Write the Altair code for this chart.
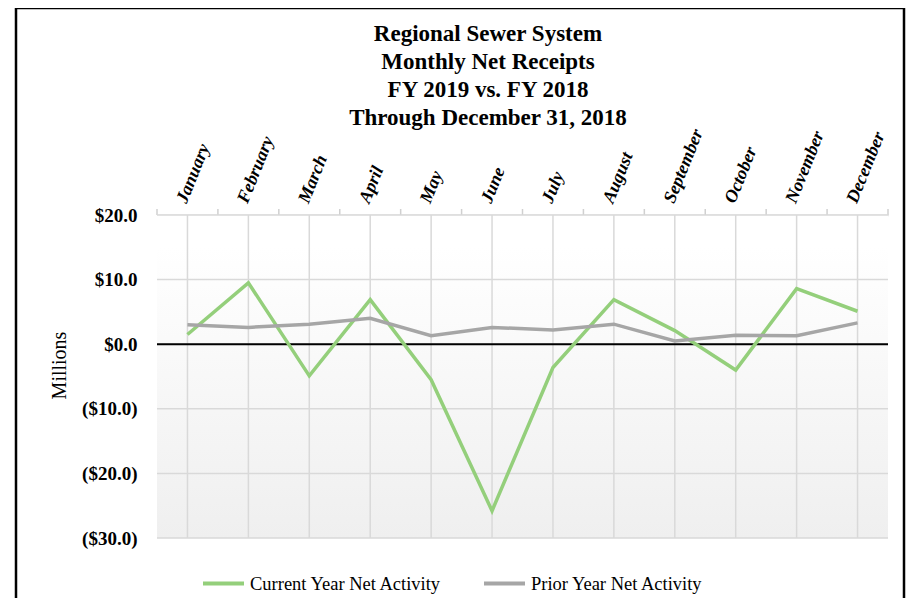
import altair as alt
import pandas as pd

months = ["January", "February", "March", "April", "May", "June",
          "July", "August", "September", "October", "November", "December"]
current_year = [1.5, 9.5, -4.9, 6.9, -5.5, -25.8, -3.6, 6.9, 2.1, -4.0, 8.6, 5.1]
prior_year = [3.0, 2.6, 3.1, 4.0, 1.3, 2.6, 2.2, 3.1, 0.5, 1.4, 1.3, 3.3]
series_names = ["Current Year Net Activity", "Prior Year Net Activity"]
series_colors = ["#94cf7b", "#a6a6a6"]
y_ticks = [20, 10, 0, -10, -20, -30]
title_lines = ["Regional Sewer System", "Monthly Net Receipts",
               "FY 2019 vs. FY 2018", "Through December 31, 2018"]

W, H = 731, 323
STEP = W / 12
FONT = "Liberation Serif"

df = pd.DataFrame({
    "Month": months * 2,
    "Value": current_year + prior_year,
    "Series": [series_names[0]] * 12 + [series_names[1]] * 12,
})
grid_df = pd.DataFrame({"Value": y_ticks})
zero_df = pd.DataFrame({"Value": [0]})
month_df = pd.DataFrame({"Month": months})
one = pd.DataFrame({"a": [0]})

xscale = alt.Scale(type="point", domain=months, padding=0.5)
yscale = alt.Scale(domain=[-30, 20], nice=False, zero=False)

x_axis = alt.Axis(orient="top", title=None, grid=False,
                  domainColor="#d0d0d0", domainWidth=1.5,
                  ticks=False, labelAngle=292, labelAlign="left",
                  labelBaseline="middle", labelFont=FONT, labelFontSize=18,
                  labelFontWeight="bold", labelFontStyle="italic",
                  labelColor="black", labelPadding=13, labelOffset=-6)
y_axis = alt.Axis(values=y_ticks, grid=False, domain=False, ticks=False,
                  format="($.1f", labelFont=FONT,
                  labelFontSize=19, labelFontWeight="bold",
                  labelColor="black", labelPadding=20,
                  title="Millions", titleFont=FONT, titleFontSize=20,
                  titleFontWeight="normal", titleColor="black",
                  titlePadding=12, titleY=150)

X = alt.X("Month:N", scale=xscale, axis=x_axis)
Y = alt.Y("Value:Q", scale=yscale, axis=y_axis)

bg = alt.Chart(one).mark_rect(
    fill=alt.LinearGradient(
        gradient="linear",
        stops=[alt.GradientStop(color="#ffffff", offset=0),
               alt.GradientStop(color="#ffffff", offset=0.1),
               alt.GradientStop(color="#efefef", offset=1)],
        x1=0, x2=0, y1=0, y2=1),
).encode(x=alt.value(0), x2=alt.value(W), y=alt.value(0), y2=alt.value(H))

vgrid = alt.Chart(month_df).mark_rule(color="#d9d9d9", strokeWidth=1.5).encode(
    x=X, y=alt.value(0), y2=alt.value(H),
)

tick_start = alt.Chart(month_df).mark_rule(
    color="#d0d0d0", strokeWidth=1.5, xOffset=-STEP / 2).encode(
    x=X, y=alt.value(-6), y2=alt.value(0),
)
tick_end = alt.Chart(month_df.tail(1)).mark_rule(
    color="#d0d0d0", strokeWidth=1.5, xOffset=STEP / 2).encode(
    x=X, y=alt.value(-6), y2=alt.value(0),
)

hgrid = alt.Chart(grid_df).mark_rule(color="#d9d9d9", strokeWidth=1.5).encode(y=Y)

zero = alt.Chart(zero_df).mark_rule(color="black", strokeWidth=2).encode(y=Y)

lines = alt.Chart(df).mark_line(strokeWidth=3.5).encode(
    x=X, y=Y,
    color=alt.Color("Series:N",
                    scale=alt.Scale(domain=series_names, range=series_colors),
                    legend=alt.Legend(orient="none", legendX=44, legendY=346,
                                      direction="horizontal", title=None,
                                      symbolType="stroke", symbolSize=1681,
                                      symbolStrokeWidth=4, labelFont=FONT,
                                      labelFontSize=18.5, labelColor="black",
                                      labelOffset=4, columnPadding=34,
                                      padding=0, labelLimit=400)),
)

title_layers = []
for i, line in enumerate(title_lines):
    title_layers.append(
        alt.Chart(one).mark_text(
            text=line, font=FONT, fontSize=23, fontWeight="bold",
            baseline="alphabetic", align="center", color="black",
        ).encode(x=alt.value(331), y=alt.value(-174 + 28 * i))
    )

frame = alt.Chart(one).mark_rect(
    fillOpacity=0, stroke="black", strokeWidth=2.5,
).encode(x=alt.value(-141), x2=alt.value(747), y=alt.value(-207), y2=alt.value(H + 90))

chart = alt.layer(bg, vgrid, tick_start, tick_end, hgrid, zero, lines,
                  *title_layers, frame).properties(
    width=W, height=H,
    autosize=alt.AutoSizeParams(type="none"),
    padding={"left": 149, "top": 207, "right": 18, "bottom": 60},
    background="white",
).configure_view(strokeWidth=0)

chart.save("out.html", embed_options={"renderer": "svg", "actions": False})
